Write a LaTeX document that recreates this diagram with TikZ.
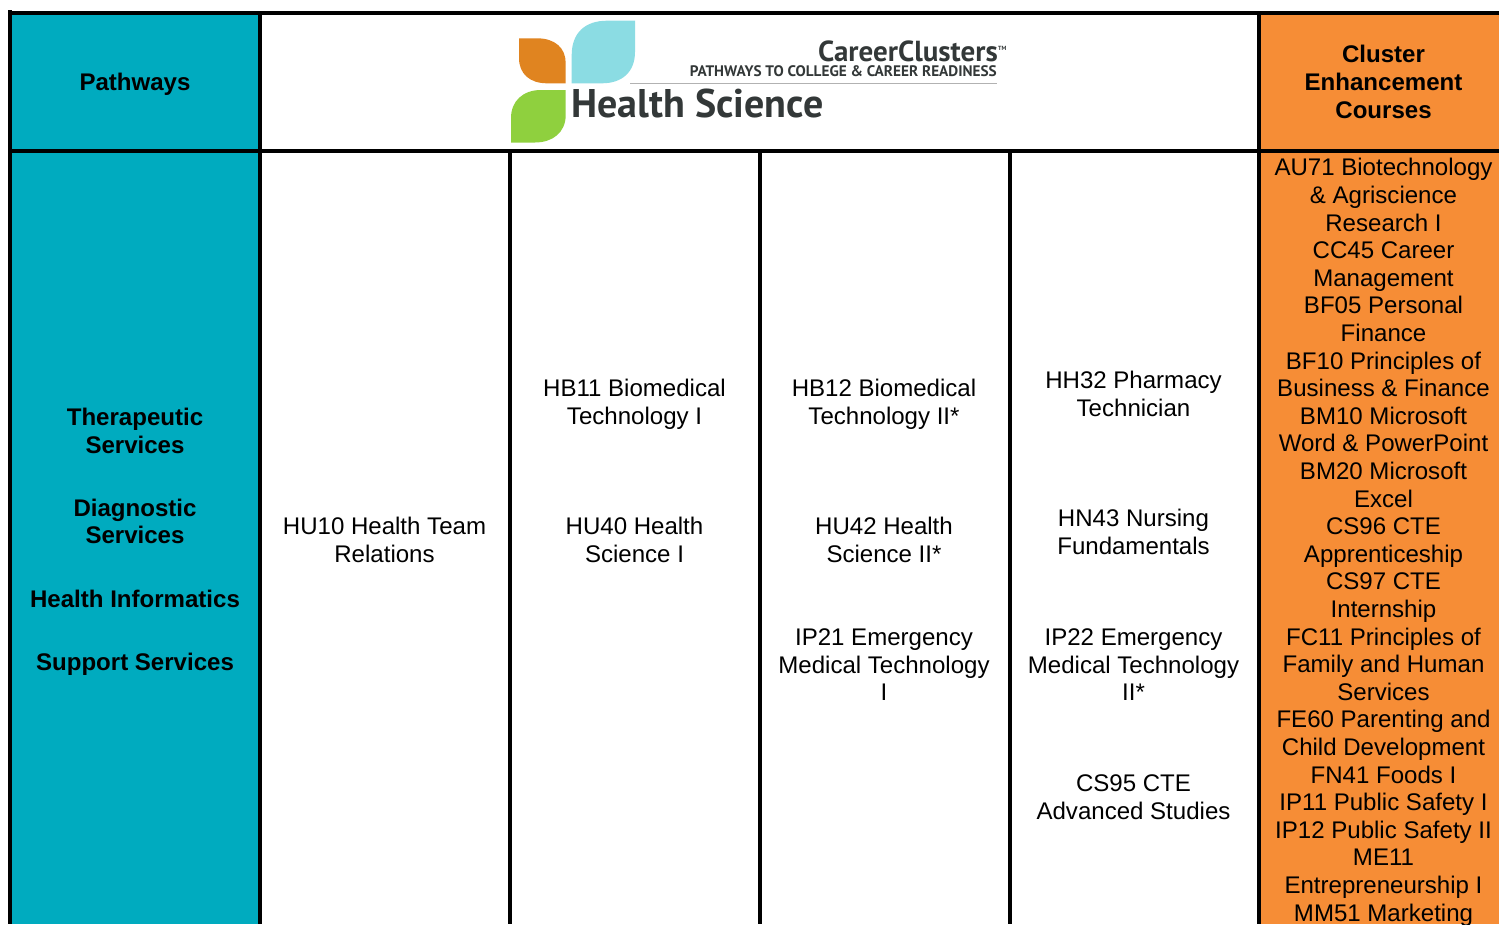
\documentclass[tikz,border=0pt]{standalone}
\usepackage{fontspec}
\setmainfont{Liberation Sans}
\newfontfamily\logofont{PT Sans}
\definecolor{tealc}{HTML}{00ABBF}
\definecolor{orangec}{HTML}{F68D36}
\definecolor{logoblue}{HTML}{8BDCE3}
\definecolor{logoorange}{HTML}{E08420}
\definecolor{logogreen}{HTML}{8FD03E}
\definecolor{logotext}{HTML}{333838}
\newcommand{\tablefont}{\fontsize{24.05}{27.6}\selectfont}
\tikzset{
  cell/.style={inner sep=0pt,outer sep=0pt,align=center,font=\tablefont,text=black,yshift=-3pt},
  head/.style={cell,font=\tablefont\bfseries},
  rule/.style={line width=4pt,black},
}
\begin{document}
\begin{tikzpicture}[x=1pt,y=-1pt]
\useasboundingbox (0,0) rectangle (1499,924);
\fill[white] (0,0) rectangle (1499,924);
% column fills
\fill[tealc] (10,13) rectangle (260,924);
\fill[orangec] (1259,13) rectangle (1499,924);
% rules
\draw[rule] (10,10) -- (10,924);
\draw[rule] (260,13) -- (260,924);
\draw[rule] (1259,13) -- (1259,924);
\draw[rule] (510,151) -- (510,924);
\draw[rule] (760,151) -- (760,924);
\draw[rule] (1010,151) -- (1010,924);
\draw[rule] (8,13) -- (1499,13);
\draw[rule] (8,151) -- (1499,151);
% logo
\fill[logoblue] (571.7,83.3) -- (571.7,55) .. controls (571.7,33) and (585,20.7) .. (607,20.7) -- (635,20.7) -- (635,52) .. controls (635,72) and (622,83.3) .. (602,83.3) -- cycle;
\fill[logoorange] (519,38.3) -- (537,38.3) .. controls (555,38.3) and (565.7,48) .. (565.7,63) -- (565.7,83.3) -- (547,83.3) .. controls (530,83.3) and (519,74) .. (519,58) -- cycle;
\fill[logogreen] (565.7,90) -- (565.7,115) .. controls (565.7,133) and (552,142.5) .. (535,142.5) -- (511,142.5) -- (511,118) .. controls (511,101) and (523,90) .. (541,90) -- cycle;
\draw[line width=1pt,black!30] (630,83.3) -- (997,83.3);
\node[anchor=base east,inner sep=0pt,text=logotext] (cc) at (998,61) {\logofont\bfseries\fontsize{29}{31}\selectfont CareerClusters};
\node[anchor=base west,inner sep=0pt,text=logotext] (tm) at (998,50) {\logofont\bfseries\fontsize{6}{7}\selectfont TM};
\node[anchor=base east,inner sep=0pt,text=logotext] (ptc) at (997,76.5) {\logofont\bfseries\fontsize{15.25}{17}\selectfont PATHWAYS TO COLLEGE \& CAREER READINESS};
\node[anchor=base west,inner sep=0pt,text=logotext] (hs) at (571,117.5) {\logofont\bfseries\fontsize{40}{42}\selectfont Health Science};
% header
\node[head] (pw) at (135,82) {\strut Pathways};
\node[head] (cec) at (1383.5,82) {\strut Cluster\\\strut Enhancement\\\strut Courses};
% pathways
\node[head] (p1) at (135,431) {\strut Therapeutic\\\strut Services};
\node[head] (p2) at (135,521.5) {\strut Diagnostic\\\strut Services};
\node[head] (p3) at (135,599) {\strut Health Informatics};
\node[head] (p4) at (135,662) {\strut Support Services};
% courses
\node[cell] (c1) at (384.5,540) {\strut HU10 Health Team\\\strut Relations};
\node[cell] (c2) at (634.5,402) {\strut HB11 Biomedical\\\strut Technology I};
\node[cell] (c3) at (634.5,540) {\strut HU40 Health\\\strut Science I};
\node[cell] (c4) at (884,402) {\strut HB12 Biomedical\\\strut Technology II*};
\node[cell] (c5) at (884,540) {\strut HU42 Health\\\strut Science II*};
\node[cell] (c6) at (884,664.5) {\strut IP21 Emergency\\\strut Medical Technology\\\strut I};
\node[cell] (c7) at (1133.5,394) {\strut HH32 Pharmacy\\\strut Technician};
\node[cell] (c8) at (1133.5,532) {\strut HN43 Nursing\\\strut Fundamentals};
\node[cell] (c9) at (1133.5,664.5) {\strut IP22 Emergency\\\strut Medical Technology\\\strut II*};
\node[cell] (c10) at (1133.5,797) {\strut CS95 CTE\\\strut Advanced Studies};
% cluster enhancement list
\node[cell] (list) at (1383.5,540) {\strut AU71 Biotechnology\\\strut \& Agriscience\\\strut Research I\\\strut CC45 Career\\\strut Management\\\strut BF05 Personal\\\strut Finance\\\strut BF10 Principles of\\\strut Business \& Finance\\\strut BM10 Microsoft\\\strut Word \& PowerPoint\\\strut BM20 Microsoft\\\strut Excel\\\strut CS96 CTE\\\strut Apprenticeship\\\strut CS97 CTE\\\strut Internship\\\strut FC11 Principles of\\\strut Family and Human\\\strut Services\\\strut FE60 Parenting and\\\strut Child Development\\\strut FN41 Foods I\\\strut IP11 Public Safety I\\\strut IP12 Public Safety II\\\strut ME11\\\strut Entrepreneurship I\\\strut MM51 Marketing};
\end{tikzpicture}
\end{document}
